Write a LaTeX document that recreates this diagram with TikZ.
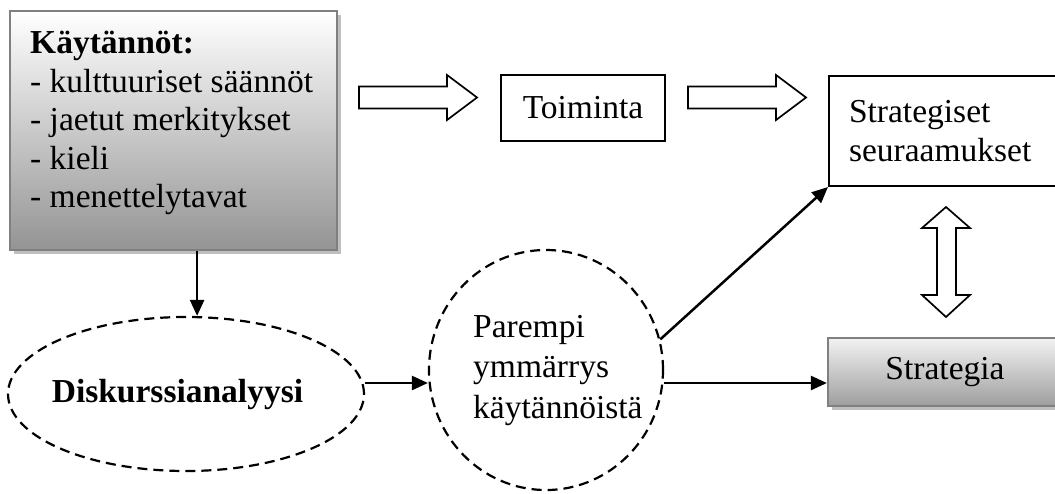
\documentclass[tikz,border=0pt]{standalone}
\usepackage{fontspec}
\setmainfont{Liberation Serif}
\usetikzlibrary{shapes.geometric,arrows.meta,shadows,calc}

\begin{document}
\begin{tikzpicture}[x=1pt,y=-1pt,
  every node/.style={font=\fontsize{33.5}{38.5}\selectfont, inner sep=0pt},
  plainbox/.style={draw=black, line width=2pt, rectangle},
  shadedbox/.style={draw=black!50, line width=2.2pt, rectangle,
    top color=white, bottom color=black!42,
    drop shadow={shadow xshift=4pt, shadow yshift=-4pt, fill=black!25, opacity=1}},
  dashedshape/.style={draw=black, ellipse, line width=2.2pt, dash pattern=on 10pt off 6pt},
  arr/.style={line width=2.5pt, -{Triangle[length=16pt,width=14pt]}},
  hollow/.style={draw=black, line width=1.7pt, fill=white, line join=miter}
]
\useasboundingbox (0,0) rectangle (1055,493);

% practices box (top left)
\node[shadedbox, minimum width=327pt, minimum height=239pt, anchor=north west]
  (kaytannot) at (9,10) {};
\node[anchor=north west, align=left] (kaytannotText) at (30,31)
  {\textbf{Käytännöt:}\\- kulttuuriset säännöt\\- jaetut merkitykset\\- kieli\\- menettelytavat};

% action box
\node[plainbox, minimum width=164pt, minimum height=66pt] (toiminta) at (583,108) {Toiminta};

% strategic consequences box
\node[plainbox, minimum width=232pt, minimum height=110pt, anchor=north west,
      text width=192pt, inner xsep=20pt, align=left] (seuraamukset) at (828,75)
  {Strategiset\\seuraamukset};

% strategy box
\node[shadedbox, top color=black!5, bottom color=black!38,
      minimum width=234pt, minimum height=68pt] (strategia) at (945,372) {Strategia};

% discourse analysis ellipse
\node[dashedshape, minimum width=356pt, minimum height=154pt] (disk) at (186,394) {};
\node (diskText) at (177.5,394) {\textbf{Diskurssianalyysi}};

% better understanding circle
\node[dashedshape, minimum width=234pt, minimum height=240pt] (circ) at (546,370) {};
\node[anchor=north west, align=left, font=\fontsize{33.5}{40.5}\selectfont]
  (circText) at (473,315) {Parempi\\ymmärrys\\käytännöistä};

% hollow block arrows
\draw[hollow] (359,86.5) -- (447,86.5) -- (447,75) -- (477,97.5) -- (447,120)
  -- (447,108.5) -- (359,108.5) -- cycle;
\draw[hollow] (688,86.5) -- (776,86.5) -- (776,75) -- (806,97.5) -- (776,120)
  -- (776,108.5) -- (688,108.5) -- cycle;
% two-headed vertical block arrow
\draw[hollow] (946,207) -- (970,228) -- (956,228) -- (956,295) -- (970,295)
  -- (946,317) -- (922,295) -- (937,295) -- (937,228) -- (922,228) -- cycle;

% connectors
\coordinate (row) at (0,383);
\draw[arr] ([xshift=23.5pt]kaytannot.south) -- ([xshift=23.5pt]kaytannot.south |- disk.north);
\draw[arr] (disk.east |- row) -- (circ.west |- row);
\draw[arr] (circ.east |- row) -- (strategia.west |- row);
\draw[arr] (circ.15) -- (seuraamukset.south west);
\end{tikzpicture}
\end{document}
